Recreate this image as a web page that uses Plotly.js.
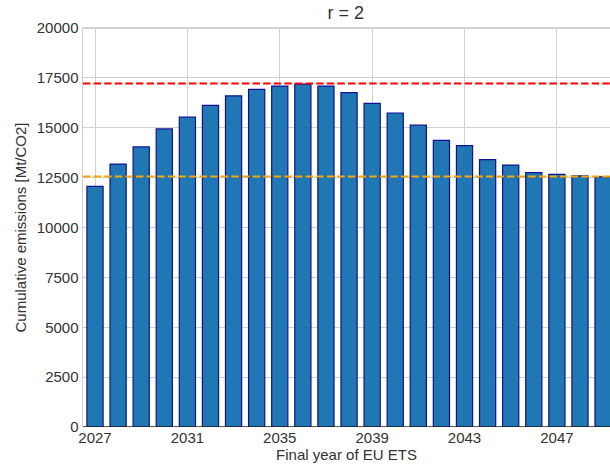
<!DOCTYPE html>
<html>
<head>
<meta charset="utf-8">
<script src="https://cdn.plot.ly/plotly-3.0.1.min.js"></script>
<style>html,body{margin:0;padding:0;background:#fff;}#chart{width:610px;height:471px;}</style>
</head>
<body>
<div id="chart"></div>
<script>
const years = [2027,2028,2029,2030,2031,2032,2033,2034,2035,2036,2037,2038,2039,2040,2041,2042,2043,2044,2045,2046,2047,2048,2049];
const cumulativeEmissions = [12060,13180,14040,14940,15530,16120,16600,16920,17090,17190,17090,16760,16220,15740,15130,14370,14100,13400,13130,12750,12660,12590,12540];
const redThreshold = 17220;
const orangeThreshold = 12560;
const yTicks = [0,2500,5000,7500,10000,12500,15000,17500,20000];
const xTicks = [2027,2031,2035,2039,2043,2047];

const font = {family: 'Liberation Sans, Arial, sans-serif', color: '#333333', size: 15};

const trace = {
  type: 'bar',
  x: years,
  y: cumulativeEmissions,
  width: 0.7,
  marker: {color: '#1f77b4', line: {color: '#10109a', width: 1.2}},
  hoverinfo: 'x+y'
};

const layout = {
  width: 610, height: 471,
  margin: {l: 83, r: 0, t: 28, b: 44},
  paper_bgcolor: '#ffffff', plot_bgcolor: '#ffffff',
  font: font,
  showlegend: false,
  title: {text: 'r = 2', x: 0.567, xanchor: 'center', y: 0.974, yanchor: 'middle', font: {family: font.family, size: 18, color: '#333333'}},
  xaxis: {
    range: [2026.48, 2049.3],
    tickvals: xTicks,
    ticktext: xTicks.map(String),
    showgrid: true, gridcolor: '#d0d0d0', gridwidth: 1,
    zeroline: false,
    showline: false,
    ticks: '', ticklen: 0,
    tickfont: {size: 15, color: '#333333'},
    title: {text: 'Final year of EU ETS', font: {size: 15, color: '#333333'}, standoff: 4}
  },
  yaxis: {
    range: [0, 20000],
    tickvals: yTicks,
    ticktext: yTicks.map(v => String(v)),
    showgrid: true, gridcolor: '#d0d0d0', gridwidth: 1,
    zeroline: false,
    showline: true, linecolor: '#cccccc', linewidth: 1.5,
    ticks: '',
    tickfont: {size: 15, color: '#333333'},
    title: {text: 'Cumulative emissions [Mt/CO2]', font: {size: 15, color: '#333333'}, standoff: 6}
  },
  shapes: [
    {type: 'line', xref: 'paper', yref: 'paper', x0: 0, x1: 1, y0: 1, y1: 1, line: {color: '#d0d0d0', width: 2}},
    {type: 'line', xref: 'paper', yref: 'y', x0: 0, x1: 1, y0: 0, y1: 0, line: {color: '#222222', width: 1.5}, layer: 'above'},
    {type: 'line', xref: 'paper', yref: 'y', x0: 0, x1: 1, y0: redThreshold, y1: redThreshold, line: {color: '#ff0000', width: 2, dash: '7.4px,3.2px'}, layer: 'above'},
    {type: 'line', xref: 'paper', yref: 'y', x0: 0, x1: 1, y0: orangeThreshold, y1: orangeThreshold, line: {color: '#ffa500', width: 2, dash: '7.4px,3.2px'}, layer: 'above'}
  ]
};

Plotly.newPlot('chart', [trace], layout, {displayModeBar: false, staticPlot: true});
</script>
</body>
</html>
